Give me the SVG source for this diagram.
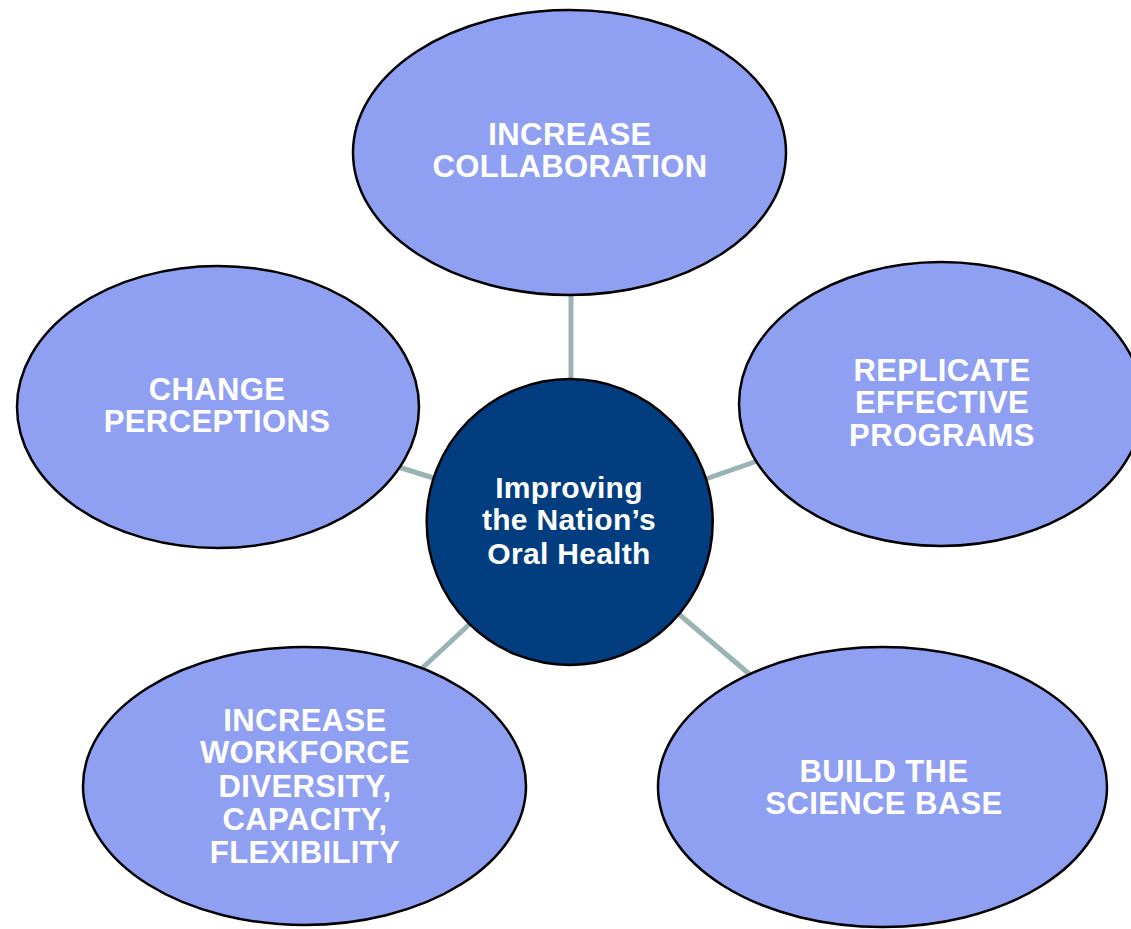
<svg xmlns="http://www.w3.org/2000/svg" width="1131" height="929" viewBox="0 0 1131 929">
<style>
.conn{stroke:#9AB3B5;stroke-width:5;fill:none}
.oval{fill:#8FA0F2;stroke:#000;stroke-width:2.5}
.hub{fill:#023E7F;stroke:#000;stroke-width:2.5}
.lbl{font-family:"Liberation Sans",Arial,sans-serif;font-weight:bold;font-size:31px;letter-spacing:0.4px;fill:#fff;text-anchor:middle}
.hubt{font-family:"Liberation Sans",Arial,sans-serif;font-weight:bold;font-size:30px;letter-spacing:0.3px;fill:#fff;text-anchor:middle}
</style>
<rect width="1131" height="929" fill="#fff"/>
<g id="connectors">
<line class="conn" x1="571" y1="290" x2="571" y2="385"/>
<line class="conn" x1="395" y1="466" x2="440" y2="480"/>
<line class="conn" x1="700" y1="481" x2="760" y2="460"/>
<line class="conn" x1="418" y1="672" x2="474" y2="620"/>
<line class="conn" x1="674" y1="610" x2="754" y2="678"/>
</g>
<g id="increase-collaboration">
<ellipse class="oval" cx="569.5" cy="152.5" rx="216.5" ry="142.5"/>
<text class="lbl" x="570" y="145">INCREASE</text>
<text class="lbl" x="570" y="177">COLLABORATION</text>
</g>
<g id="change-perceptions">
<ellipse class="oval" cx="218" cy="407" rx="201" ry="141"/>
<text class="lbl" x="217" y="400">CHANGE</text>
<text class="lbl" x="217" y="432">PERCEPTIONS</text>
</g>
<g id="replicate-programs">
<ellipse class="oval" cx="941" cy="404" rx="202" ry="142"/>
<text class="lbl" x="942" y="381">REPLICATE</text>
<text class="lbl" x="942" y="413">EFFECTIVE</text>
<text class="lbl" x="942" y="446">PROGRAMS</text>
</g>
<g id="increase-workforce">
<ellipse class="oval" cx="304.5" cy="786" rx="221.5" ry="139"/>
<text class="lbl" x="305" y="731">INCREASE</text>
<text class="lbl" x="305" y="763">WORKFORCE</text>
<text class="lbl" x="305" y="797">DIVERSITY,</text>
<text class="lbl" x="305" y="830">CAPACITY,</text>
<text class="lbl" x="305" y="863">FLEXIBILITY</text>
</g>
<g id="build-science-base">
<ellipse class="oval" cx="882.5" cy="787" rx="224.5" ry="140"/>
<text class="lbl" x="884" y="782">BUILD THE</text>
<text class="lbl" x="884" y="814">SCIENCE BASE</text>
</g>
<g id="hub">
<circle class="hub" cx="569.7" cy="522" r="143"/>
<text class="hubt" x="569" y="498">Improving</text>
<text class="hubt" x="569" y="530">the Nation’s</text>
<text class="hubt" x="569" y="564">Oral Health</text>
</g>
</svg>
